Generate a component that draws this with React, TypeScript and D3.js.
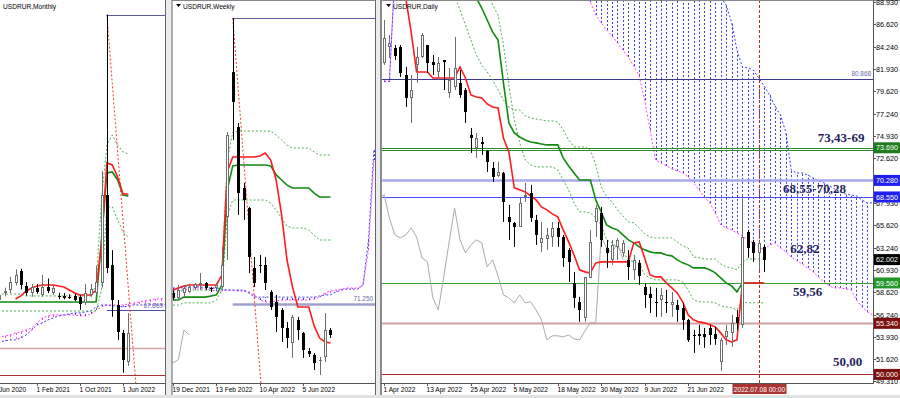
import React from "react";
import * as d3 from "d3";

type OHLC = [number, number, number, number];
type Seg = { from: number; values: number[] };

// ---------- Monthly (bar 0 = 1 Jun 2020)
const monthlyCandles: OHLC[] = [
  [70.0, 71.5, 68.5, 70.6], [70.6, 73.0, 70.0, 72.0], [72.8, 74.0, 71.6, 73.2], [73.4, 77.0, 72.5, 75.6],
  [75.3, 79.0, 74.6, 77.5], [78.6, 79.2, 73.5, 74.7], [74.5, 75.5, 71.8, 72.5], [72.5, 75.0, 71.5, 74.2],
  [73.9, 75.0, 72.3, 72.8], [72.0, 77.5, 71.5, 74.2], [74.2, 76.5, 72.5, 73.1], [72.6, 74.6, 72.0, 74.0],
  [71.6, 72.6, 70.8, 71.4], [71.7, 72.5, 70.8, 71.2], [71.5, 72.2, 70.9, 71.3], [71.7, 72.3, 70.3, 70.6],
  [71.4, 72.0, 67.9, 69.5], [69.8, 75.0, 69.2, 72.5], [72.0, 75.0, 71.5, 73.6], [72.5, 80.0, 72.0, 75.6],
  [75.3, 106.0, 74.0, 99.5], [99.5, 149.0, 78.0, 79.4], [80.2, 84.3, 66.0, 70.6], [69.2, 70.6, 59.6, 61.8],
  [61.5, 62.4, 50.6, 54.1], [53.6, 67.0, 52.5, 61.5],
];
const monthlyTenkan: Seg = { from: 4, values: [70.89, 71.72, 73.09, 73.91, 74.46, 74.74, 74.74, 74.74, 74.46, 74.19, 73.36, 72.54, 71.99, 71.99, 71.99, 73.36, 86.28, 108.25, 107.7, 104.41, 99.74, 99.74] };
const monthlyKijun: Seg = { from: 0, values: [70.07, 70.07, 70.07, 70.07, 70.07, 70.07, 70.07, 70.07, 70.07, 70.07, 70.07, 70.07, 70.07, 70.07, 70.07, 70.07, 70.07, 70.07, 70.07, 70.07, 87.1, 105.51, 105.78, 103.58, 99.46, 99.19] };
const monthlyDots: Seg[] = [
  { from: 0, values: [72.26, 72.26, 72.26, 72.26, 72.26, 72.26, 71.72, 71.72, 71.72, 71.72, 71.72, 71.72, 71.72, 71.72, 71.72, 71.72, 71.72, 71.72, 71.72, 74.74, 98.09, 113.2, 115.94, 113.2, 111.28, 110.73] },
  { from: 0, values: [67.59, 67.59, 67.59, 67.59, 67.59, 67.59, 67.59, 67.59, 67.59, 67.59, 67.59, 67.59, 67.59, 67.59, 67.59, 67.59, 67.59, 67.59, 67.59, 67.59, 73.36, 96.17, 96.17, 92.6, 89.3, 87.92] },
];
const monthlySpanA: Seg[] = [{ from: 0, values: [60.45, 60.45, 60.73, 61.0, 61.55, 61.83, 62.38, 62.92, 64.3, 65.67, 66.22, 66.5, 66.5, 66.5, 66.5, 66.5, 66.22, 66.22, 66.77, 67.87, 68.69, 69.24, 69.24, 69.24, 69.24, 69.52, 69.79, 70.07, 70.34, 70.62, 70.89, 70.89, 71.17] }];
const monthlySpanB: Seg[] = [{ from: 0, values: [59.08, 59.08, 59.35, 59.63, 59.63, 60.18, 61.0, 62.38, 63.75, 64.3, 65.12, 65.67, 66.22, 66.5, 66.77, 67.05, 67.05, 67.32, 67.59, 68.69, 69.24, 69.24, 68.97, 68.97, 68.69, 68.97, 69.24, 69.24, 69.24, 69.24, 69.24, 69.24, 69.24] }];
const monthlyLevels = [149.0, 67.869, 57.43, 50.0];
const monthlyLevelFrom = [21, 21, 0, 0];
const monthlyTrend: [number, number][] = [[21, 149.0], [26.6, 43.7]];
const monthlyDates = ["1 Jun 2020", "1 Feb 2021", "1 Oct 2021", "1 Jun 2022"];
const monthlyDateBars = [0, 8, 16, 24];

// ---------- Weekly (bar 0 = 19 Dec 2021)
const weeklyCandles: OHLC[] = [
  [74.7, 75.6, 72.5, 73.1], [73.1, 77.2, 72.5, 75.6], [74.7, 77.2, 73.4, 76.25], [75.0, 77.5, 74.7, 76.6],
  [76.25, 77.8, 75.6, 77.5], [77.6, 80.9, 75.6, 77.8], [77.8, 78.1, 75.6, 76.25], [76.3, 76.6, 75.0, 76.2],
  [76.25, 77.8, 75.9, 77.2], [76.6, 89.1, 76.25, 83.4], [98.4, 125.0, 85.0, 124.1], [143.75, 160.6, 122.5, 134.4],
  [126.6, 127.8, 99.1, 105.9], [107.5, 109.1, 97.5, 103.75], [101.25, 101.6, 80.9, 85.9], [82.5, 85.9, 76.6, 77.8],
  [83.4, 86.6, 80.9, 83.1], [83.4, 85.9, 75.6, 77.8], [75.0, 75.6, 69.4, 70.3], [71.9, 74.1, 62.5, 67.2],
  [69.4, 70.0, 59.4, 63.75], [63.75, 65.6, 57.5, 60.6], [59.1, 67.8, 54.4, 67.2], [66.25, 67.2, 60.0, 63.1],
  [62.2, 62.5, 54.4, 56.9], [56.6, 57.5, 54.7, 55.6], [55.3, 55.9, 50.6, 52.8], [53.6, 54.7, 49.1, 53.9],
  [54.7, 68.4, 53.1, 63.1], [63.1, 63.75, 60.6, 61.6],
];
const weeklyTenkan: Seg = { from: 0, values: [75.6, 76.25, 76.9, 77.2, 77.2, 77.2, 77.2, 77.2, 77.2, 80.3, 112.5, 117.2, 117.2, 117.2, 117.2, 117.2, 117.5, 118.4, 116.25, 110.0, 99.1, 85.0, 76.6, 70.3, 70.3, 70.3, 64.4, 60.6, 59.4, 59.1] };
const weeklyKijun: Seg = { from: 0, values: [72.5, 72.5, 73.4, 73.4, 73.4, 73.4, 73.4, 73.75, 74.1, 77.2, 106.9, 114.4, 114.7, 114.7, 114.7, 114.7, 114.7, 114.7, 114.4, 111.6, 110.0, 108.4, 107.5, 107.5, 107.5, 107.5, 105.9, 104.7, 104.7, 104.7] };
const weeklyDots: Seg[] = [
  { from: 0, values: [75.0, 75.0, 75.6, 75.6, 75.6, 75.6, 75.6, 75.6, 77.2, 80.3, 116.25, 125.0, 125.3, 125.3, 125.3, 125.3, 125.3, 125.3, 125.3, 124.1, 122.5, 120.9, 120.0, 120.0, 120.0, 120.0, 118.75, 117.8, 117.8, 117.8] },
  { from: 0, values: [70.9, 70.9, 71.6, 71.6, 71.6, 71.6, 71.6, 71.6, 72.5, 75.6, 99.1, 103.75, 103.75, 103.75, 103.75, 103.75, 103.75, 103.75, 102.8, 100.6, 98.1, 95.6, 95.0, 95.0, 95.0, 94.4, 92.8, 91.25, 91.25, 91.25] },
];
const weeklySpanA: Seg[] = [{ from: 0, values: [75.6, 75.9, 75.9, 75.9, 76.25, 76.25, 75.9, 75.6, 75.3, 75.3, 75.6, 75.6, 75.3, 75.3, 75.0, 74.1, 72.5, 71.9, 71.9, 72.2, 72.5, 72.5, 72.5, 72.5, 72.5, 72.5, 72.8, 73.4, 74.7, 75.3, 75.6, 75.9, 76.25, 76.25, 76.25, 77.2, 88.1, 116.25] }];
const weeklySpanB: Seg[] = [{ from: 0, values: [76.25, 76.25, 76.6, 76.6, 76.6, 76.6, 76.25, 76.25, 76.25, 75.9, 75.6, 75.6, 75.6, 75.6, 74.7, 73.4, 73.4, 73.4, 73.4, 73.4, 73.4, 73.4, 73.4, 73.4, 73.4, 73.4, 73.4, 73.75, 74.1, 74.1, 75.0, 75.6, 75.9, 75.9, 75.9, 77.2, 91.25, 119.4] }];
const weeklyLevels = [160.6, 71.25];
const weeklyLevelFrom = [11, 11];
const weeklyTrend: [number, number][] = [[11, 160.6], [16.4, 41.9]];
const weeklyDates = ["19 Dec 2021", "13 Feb 2022", "10 Apr 2022", "5 Jun 2022"];
const weeklyDateBars = [0, 8, 16, 24];

// ---------- Daily (bar 0 = 1 Apr 2022)
const dailyCandles: OHLC[] = [
  [82.56, 87.05, 82.35, 85.17], [84.23, 85.48, 83.08, 84.64], [84.12, 84.44, 82.87, 83.29], [84.23, 84.44, 81.09, 81.51],
  [81.3, 82.14, 77.96, 78.9], [78.9, 81.3, 76.29, 79.73], [82.35, 84.23, 80.47, 83.18], [83.18, 85.69, 83.08, 85.48],
  [84.44, 84.44, 81.51, 82.56], [82.66, 83.39, 81.3, 82.35], [81.61, 83.18, 80.78, 82.56], [82.87, 82.87, 79.73, 82.66],
  [79.42, 82.03, 78.9, 80.78], [80.05, 85.27, 79.73, 82.03], [80.47, 81.82, 78.9, 79.21], [79.73, 79.94, 76.29, 77.43],
  [75.03, 75.76, 73.15, 74.72], [73.67, 75.24, 72.63, 74.72], [74.3, 74.82, 72.94, 74.09], [73.36, 73.46, 71.17, 72.21],
  [71.58, 72.21, 70.12, 70.64], [70.75, 72.21, 70.64, 71.17], [71.06, 71.17, 65.94, 68.03], [66.46, 67.72, 64.06, 65.94],
  [65.83, 65.94, 63.33, 65.42], [65.42, 68.45, 65.42, 67.93], [68.59, 70.01, 68.03, 68.8], [68.97, 69.81, 65.94, 66.36],
  [66.15, 66.67, 63.54, 64.58], [63.75, 65.94, 62.8, 64.27], [64.16, 65.31, 63.01, 64.58], [64.37, 65.94, 63.33, 65.31],
  [65.31, 65.94, 63.33, 64.37], [64.37, 64.58, 61.24, 62.18], [63.01, 63.22, 59.67, 61.76], [59.56, 60.71, 56.95, 57.99],
  [57.58, 58.1, 55.49, 56.74], [55.91, 60.19, 55.49, 60.19], [60.09, 65.1, 60.09, 63.85], [65.94, 67.72, 64.37, 67.4],
  [66.88, 67.51, 63.33, 64.06], [63.22, 64.06, 61.14, 62.7], [61.97, 64.06, 61.45, 63.54], [63.33, 64.27, 61.97, 64.06],
  [62.7, 64.06, 62.28, 63.75], [61.97, 63.01, 59.88, 61.24], [60.92, 62.49, 59.88, 61.97], [61.66, 61.97, 59.36, 60.29],
  [59.15, 59.56, 56.95, 58.31], [58.41, 59.15, 56.43, 57.99], [57.58, 59.04, 56.01, 57.48], [57.79, 59.04, 56.01, 58.31],
  [57.58, 58.83, 56.43, 57.48], [57.27, 58.62, 56.01, 57.58], [57.27, 57.79, 55.49, 56.74], [56.95, 57.48, 54.65, 55.7],
  [55.7, 55.8, 53.4, 53.61], [54.13, 54.65, 52.25, 54.03], [54.23, 55.18, 53.09, 54.03], [54.23, 54.86, 52.77, 53.92],
  [54.86, 55.18, 53.09, 54.13], [54.23, 54.96, 53.09, 53.71], [51.31, 53.82, 50.36, 53.61], [53.92, 55.18, 53.09, 54.55],
  [54.34, 56.22, 52.88, 55.39], [56.01, 56.74, 54.65, 55.39], [55.18, 68.76, 54.86, 64.37], [64.89, 65.1, 62.18, 63.22],
  [63.85, 64.06, 61.76, 62.7], [62.7, 63.85, 60.92, 63.75], [63.33, 63.54, 60.71, 62.0],
];
const dailyTenkan: Seg = { from: 3, values: [92, 89.35, 85.8, 81.62, 81.62, 81.62, 80.99, 80.99, 80.99, 80.99, 80.99, 82.14, 80.99, 79.21, 79.0, 78.9, 78.27, 77.96, 77.85, 74.72, 73.26, 69.5, 69.29, 69.08, 68.66, 68.24, 67.51, 67.2, 66.78, 66.47, 65.11, 63.85, 62.49, 60.93, 60.72, 60.61, 61.66, 61.76, 61.76, 61.76, 61.76, 61.76, 61.76, 63.75, 63.85, 62.18, 60.4, 60.19, 60.19, 59.57, 59.04, 58.52, 57.58, 56.22, 55.7, 55.49, 55.39, 55.18, 54.97, 54.34, 53.61, 53.4, 53.61, 59.56, 59.56, 59.56, 59.56, 59.56] };
const dailyKijun: Seg = { from: 15, values: [91.5, 90.2, 89.35, 88.3, 87.05, 85.8, 84.96, 80.47, 76.29, 75.24, 74.82, 74.51, 74.3, 74.2, 74.09, 73.99, 73.99, 73.99, 72.63, 71.79, 71.06, 70.33, 70.33, 70.33, 68.24, 66.98, 65.63, 65.31, 65.11, 64.58, 64.06, 63.75, 63.33, 63.02, 62.81, 62.7, 62.7, 62.49, 62.39, 61.97, 61.66, 61.45, 61.14, 61.14, 61.14, 60.93, 60.61, 60.09, 59.57, 59.25, 58.63, 59.56, 59.56, 59.56, 59.56, 59.56] };
const dailyDots: Seg[] = [
  { from: 13, values: [89.66, 88.09, 86.53, 84.96, 83.39, 82.35, 81.62, 80.78, 79.73, 78.69, 77.96, 77.64, 77.64, 77.02, 76.81, 76.7, 76.6, 76.5, 76.5, 76.39, 75.56, 74.51, 73.78, 73.78, 73.78, 73.46, 71.9, 69.6, 68.55, 68.03, 67.2, 66.57, 65.94, 65.84, 65.31, 64.69, 64.37, 64.27, 64.27, 64.27, 64.27, 63.85, 63.43, 63.22, 62.28, 62.18, 62.07, 62.07, 62.07, 61.55, 61.24, 61.14, 60.93, 61.76, 62.07, 62.07, 62.07, 62.07] },
  { from: 19, values: [89.97, 88.62, 87.57, 84.44, 80.26, 76.6, 74.2, 72.42, 71.9, 71.69, 71.69, 71.69, 71.69, 71.38, 70.33, 69.29, 67.93, 66.99, 66.99, 66.88, 66.36, 65.63, 64.06, 63.75, 63.33, 62.81, 61.97, 61.76, 61.66, 60.4, 60.09, 59.88, 59.88, 59.88, 59.88, 59.88, 59.67, 58.84, 57.79, 57.58, 57.58, 57.58, 57.48, 57.17, 57.06, 56.96, 56.75, 57.58, 57.48, 57.48, 57.48, 57.48] },
];
const dailySpanA: Seg[] = [
  { from: 0, values: [80.8, 80.8, 92] },
  { from: 37, values: [89.97, 88.93, 87.57, 86.74, 86.0, 85.38, 84.65, 83.91, 83.18, 82.24, 81.2, 78.69, 75.56, 72.42, 72.11, 71.79, 71.48, 71.27, 71.06, 70.64, 70.02, 69.29, 68.55, 67.93, 66.88, 65.63, 65.32, 65.11, 64.79, 64.48, 64.06, 63.75, 63.33, 63.02, 63.54, 63.75, 63.22, 62.81, 62.28, 61.87, 61.55, 61.14, 60.72, 60.19, 59.67, 59.25, 59.04, 59.04, 58.94, 58.84, 57.79, 57.06, 56.54, 56.22] },
];
const dailySpanB: Seg[] = [
  { from: 0, values: [80.6, 80.6, 92] },
  { from: 37, values: [100, 100, 100, 100, 100, 100, 100, 100, 100, 100, 100, 100, 100, 100, 100, 100, 100, 100, 100, 100, 100, 100, 100, 100, 100, 89.45, 88.62, 86.84, 83.91, 82.14, 82.03, 81.82, 80.99, 80.15, 79.21, 78.06, 77.12, 75.34, 71.37, 71.06, 71.06, 70.85, 70.54, 70.22, 70.02, 69.7, 69.39, 69.07, 68.86, 68.76, 68.66, 68.24, 67.93, 67.93] },
];
const dailyLevels = [80.868, 73.69, 73.43, 70.28, 68.55, 59.56, 55.34, 50.0];
const dailyPriceTicks = [88.93, 86.62, 84.24, 81.93, 79.62, 77.24, 74.93, 72.62, 67.93, 65.62, 63.24, 60.93, 58.62, 56.24, 53.93, 51.62, 49.31];
const dailyMarks = [73.69, 70.28, 68.55, 62.002, 59.56, 55.34, 50.0];
const dailyDates = ["1 Apr 2022", "13 Apr 2022", "25 Apr 2022", "5 May 2022", "18 May 2022", "30 May 2022", "9 Jun 2022", "21 Jun 2022"];
const dailyDateBars = [0, 8, 16, 24, 32, 40, 48, 56];
const dailyCursorBar = 69;
const dailyCursorText = "2022.07.08 00:00";
const dailyNotes = ["73,43-69", "68,55-70,28", "62,82", "59,56", "50,00"];
const dailyNoteAt: [number, number][] = [[79.9, 74.3], [73.5, 68.97], [74.8, 62.7], [75.3, 58.21], [82.7, 50.89]];

const FONT = "'Liberation Sans', Arial, sans-serif";
const SERIF = "'Liberation Serif', 'Times New Roman', serif";
const BLUE = "#3b3bff";
const MAG = "#ff40ff";
const AXIS_Y = 383;

type LStyle = { c: string; w: number };

function Panel(p: {
  id: string; left: number; right: number; x: any; y: any;
  candles: OHLC[]; tenkan: Seg; kijun: Seg; dots: Seg[]; spanA: Seg[]; spanB: Seg[];
  levels: number[]; levelFrom: (number | null)[]; levelStyles: LStyle[];
  trend?: [number, number][]; cursor?: number;
}) {
  const { x, y } = p;
  const toMap = (segs: Seg[]) => {
    const m = new Map<number, number>();
    segs.forEach((s) => s.values.forEach((v, j) => m.set(s.from + j, v)));
    return m;
  };
  const a = toMap(p.spanA);
  const b = toMap(p.spanB);
  const segPath = (s: Seg) =>
    d3.line<number>().x((_, j) => x(s.from + j)).y((v) => y(v))(s.values) || "";
  const chikou = d3.line<OHLC>().x((_, i) => x(i - 26)).y((c) => y(c[3]))(p.candles) || "";

  return (
    <g>
      <defs>
        <clipPath id={p.id}>
          <rect x={p.left} y={0} width={p.right - p.left} height={AXIS_Y} />
        </clipPath>
      </defs>
      <g clipPath={`url(#${p.id})`}>
        {[...a.keys()].filter((i) => b.has(i)).map((i) => {
          const va = a.get(i)!, vb = b.get(i)!;
          const xx = Math.round(x(i)) + 0.5;
          return (
            <line key={"h" + i} x1={xx} x2={xx} y1={y(va)} y2={y(vb)}
              stroke={va > vb ? MAG : BLUE} strokeWidth={1} strokeDasharray="2,2" />
          );
        })}
        {p.spanA.map((s, k) => <path key={"a" + k} d={segPath(s)} fill="none" stroke={MAG} strokeDasharray="2,2" />)}
        {p.spanB.map((s, k) => <path key={"b" + k} d={segPath(s)} fill="none" stroke={BLUE} strokeDasharray="2,2" />)}
        {p.levels.map((v, k) => {
          const yy = Math.round(y(v)) + 0.5;
          const f = p.levelFrom[k];
          return (
            <line key={"l" + k} x1={f == null ? p.left : x(f)} x2={p.right} y1={yy} y2={yy}
              stroke={p.levelStyles[k].c} strokeWidth={p.levelStyles[k].w} />
          );
        })}
        {p.trend && (
          <line x1={x(p.trend[0][0])} y1={y(p.trend[0][1])} x2={x(p.trend[1][0])} y2={y(p.trend[1][1])}
            stroke="#ff3030" strokeDasharray="2,2" />
        )}
        {p.dots.map((s, k) => <path key={"d" + k} d={segPath(s)} fill="none" stroke="#4fae4f" strokeDasharray="2,2" />)}
        <path d={chikou} fill="none" stroke="#a9a9b2" strokeWidth={1} />
        <path d={segPath(p.kijun)} fill="none" stroke="#118a11" strokeWidth={1.6} />
        <path d={segPath(p.tenkan)} fill="none" stroke="#ff1c1c" strokeWidth={1.6} />
        {p.cursor != null && (
          <line x1={Math.round(x(p.cursor)) + 0.5} x2={Math.round(x(p.cursor)) + 0.5} y1={0} y2={AXIS_Y}
            stroke="#c02828" strokeDasharray="3,2" />
        )}
        {p.candles.map(([o, h, l, c], i) => {
          const cx = Math.round(x(i)) + 0.5;
          const up = c >= o;
          const t = Math.round(y(Math.max(o, c)));
          const bt = Math.round(y(Math.min(o, c)));
          const col = up ? "#6e6e6e" : "#000";
          return (
            <g key={"c" + i}>
              <line x1={cx} x2={cx} y1={y(h)} y2={y(l)} stroke={col} strokeWidth={1} />
              {bt - t < 1 ? (
                <line x1={cx - 1.5} x2={cx + 1.5} y1={t + 0.5} y2={t + 0.5} stroke={col} />
              ) : up ? (
                <rect x={cx - 1} y={t + 0.5} width={2} height={bt - t - 1 > 0 ? bt - t - 1 : 1} fill="#fff" stroke={col} />
              ) : (
                <rect x={cx - 1.5} y={t} width={3} height={bt - t} fill="#000" />
              )}
            </g>
          );
        })}
      </g>
    </g>
  );
}

function DateAxis(p: { x: any; labels: string[]; bars: number[]; left: number; right: number }) {
  return (
    <g>
      <line x1={p.left} x2={p.right} y1={AXIS_Y + 0.5} y2={AXIS_Y + 0.5} stroke="#555" />
      {p.labels.map((t, k) => {
        const xx = Math.round(p.x(p.bars[k])) + 0.5;
        return (
          <g key={k}>
            <line x1={xx} x2={xx} y1={AXIS_Y} y2={AXIS_Y + 3} stroke="#555" />
            <text x={xx - 1} y={392} fontSize={6.6} fontFamily={FONT} fill="#000">{t}</text>
          </g>
        );
      })}
    </g>
  );
}

function Title({ x, text, arrow }: { x: number; text: string; arrow: boolean }) {
  return (
    <g>
      {arrow && <path d={`M${x},4 L${x + 5},4 L${x + 2.5},7 Z`} fill="#000" />}
      <text x={arrow ? x + 7 : x} y={8.5} fontSize={6.6} fontFamily={FONT} fill="#000">{text}</text>
    </g>
  );
}

export default function App() {
  const W = 900, H = 398;
  const mx = d3.scaleLinear().domain([0, 32]).range([-6, 166]);
  const my = d3.scaleLinear().domain([45, 150]).range([393.2, 11]);
  const wx = d3.scaleLinear().domain([0, 37]).range([173, 373.9]);
  const wy = d3.scaleLinear().domain([45, 160]).range([388, 20]);
  const dx = d3.scaleLinear().domain([0, 90]).range([384, 872.7]);
  const dy = d3.scaleLinear().domain([49.31, 88.93]).range([381, 2]);

  const monthlyStyles: LStyle[] = [
    { c: "#5a5aa0", w: 1 }, { c: "#4e4e9c", w: 1 }, { c: "#d2a4a4", w: 1.5 }, { c: "#a83030", w: 1.2 },
  ];
  const weeklyStyles: LStyle[] = [{ c: "#5a5aa0", w: 1 }, { c: "#a0a0cc", w: 2.5 }];
  const dailyStyles: LStyle[] = [
    { c: "#3c3c8e", w: 1 }, { c: "#2c8c2c", w: 1 }, { c: "#2c8c2c", w: 1 }, { c: "#a8a8f0", w: 2.5 },
    { c: "#4848ff", w: 1 }, { c: "#36a036", w: 1.2 }, { c: "#d4a2a2", w: 2 }, { c: "#a52a2a", w: 1.2 },
  ];
  const markColors = ["#1e7e1e", "#1f1ff0", "#1f1ff0", "#000", "#25962a", "#7a1010", "#7a1010"];

  const DL = 382, DR = 873;
  const cursorX = Math.round(dx(dailyCursorBar)) + 0.5;

  return (
    <svg width={W} height={H} style={{ display: "block", position: "absolute", left: 0, top: 0 }}>
      <rect x={0} y={0} width={W} height={H} fill="#fff" />
      {/* window gaps */}
      <rect x={166} y={0} width={6} height={H} fill="#ececec" />
      <rect x={376} y={0} width={5} height={H} fill="#ececec" />
      <rect x={0} y={395} width={W} height={3} fill="#e2e2e2" />

      {/* ---- Monthly ---- */}
      <Panel id="clipM" left={0} right={165} x={mx} y={my} candles={monthlyCandles} tenkan={monthlyTenkan}
        kijun={monthlyKijun} dots={monthlyDots} spanA={monthlySpanA} spanB={monthlySpanB}
        levels={monthlyLevels} levelFrom={monthlyLevelFrom} levelStyles={monthlyStyles} trend={monthlyTrend} />
      <text x={163} y={308} textAnchor="end" fontSize={6.4} fontFamily={FONT} fill="#6a6aa8">{monthlyLevels[1].toFixed(3)}</text>
      <line x1={165.5} x2={165.5} y1={0} y2={395} stroke="#666" />
      <DateAxis x={mx} labels={monthlyDates} bars={monthlyDateBars} left={0} right={165} />
      <Title x={3} text="USDRUR,Monthly" arrow={false} />

      {/* ---- Weekly ---- */}
      <Panel id="clipW" left={172.5} right={375} x={wx} y={wy} candles={weeklyCandles} tenkan={weeklyTenkan}
        kijun={weeklyKijun} dots={weeklyDots} spanA={weeklySpanA} spanB={weeklySpanB}
        levels={weeklyLevels} levelFrom={weeklyLevelFrom} levelStyles={weeklyStyles} trend={weeklyTrend} />
      <text x={373} y={301} textAnchor="end" fontSize={6.4} fontFamily={FONT} fill="#6a6aa8">{weeklyLevels[1].toFixed(3)}</text>
      <line x1={172} x2={172} y1={0} y2={395} stroke="#666" />
      <line x1={375.5} x2={375.5} y1={0} y2={395} stroke="#666" />
      <line x1={172} x2={375.5} y1={0.5} y2={0.5} stroke="#888" />
      <DateAxis x={wx} labels={weeklyDates} bars={weeklyDateBars} left={172} right={375} />
      <Title x={176} text="USDRUR,Weekly" arrow={true} />

      {/* ---- Daily ---- */}
      <Panel id="clipD" left={DL} right={DR} x={dx} y={dy} candles={dailyCandles} tenkan={dailyTenkan}
        kijun={dailyKijun} dots={dailyDots} spanA={dailySpanA} spanB={dailySpanB}
        levels={dailyLevels} levelFrom={dailyLevels.map(() => null)} levelStyles={dailyStyles} cursor={dailyCursorBar} />
      <text x={871} y={76} textAnchor="end" fontSize={6.4} fontFamily={FONT} fill="#6a6aa8">{dailyLevels[0].toFixed(3)}</text>
      {dailyNotes.map((t, k) => (
        <text key={k} x={dx(dailyNoteAt[k][0])} y={dy(dailyNoteAt[k][1])} fontSize={13} fontWeight="bold"
          fontFamily={SERIF} fill="#24245c">{t}</text>
      ))}
      <line x1={381} x2={381} y1={0} y2={395} stroke="#666" strokeWidth={1.5} />
      <line x1={381} x2={W} y1={0.5} y2={0.5} stroke="#888" />
      <line x1={DR + 0.5} x2={DR + 0.5} y1={0} y2={AXIS_Y + 1} stroke="#555" />
      {dailyPriceTicks.map((v, k) => {
        const yy = Math.round(dy(v)) + 0.5;
        return (
          <g key={k}>
            <line x1={DR} x2={DR + 3} y1={yy} y2={yy} stroke="#555" />
            <text x={876} y={yy + 2.6} fontSize={7.2} fontFamily={FONT} fill="#000">{v.toFixed(3)}</text>
          </g>
        );
      })}
      {dailyMarks.map((v, k) => {
        const yy = dy(v);
        return (
          <g key={"m" + k}>
            <rect x={874} y={yy - 5.5} width={26} height={11} fill={markColors[k]} />
            <text x={876} y={yy + 2.6} fontSize={7.2} fontFamily={FONT} fill="#fff">{v.toFixed(3)}</text>
          </g>
        );
      })}
      <DateAxis x={dx} labels={dailyDates} bars={dailyDateBars} left={381} right={DR} />
      <rect x={cursorX - 27} y={384} width={54} height={10} fill="#a83434" />
      <text x={cursorX} y={391.5} textAnchor="middle" fontSize={6.6} fontFamily={FONT} fill="#fff">{dailyCursorText}</text>
      <Title x={386} text="USDRUR,Daily" arrow={true} />
    </svg>
  );
}
